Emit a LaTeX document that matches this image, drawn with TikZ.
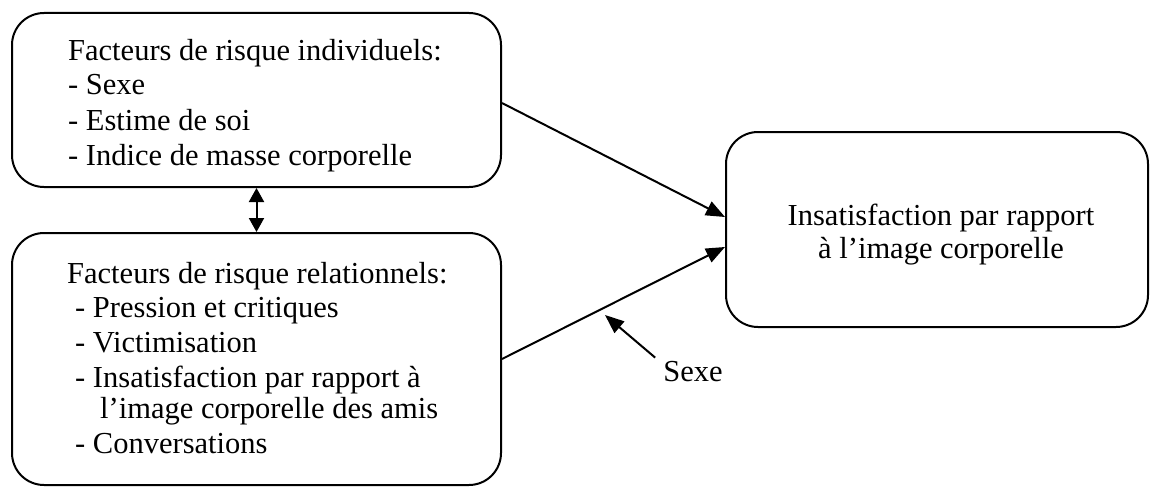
\documentclass[tikz,border=0pt]{standalone}
\usepackage{fontspec}
\setmainfont{Liberation Serif}
\usetikzlibrary{arrows.meta}
\begin{document}
\begin{tikzpicture}[x=1pt,y=-1pt,
  font=\fontsize{30.5}{35}\selectfont,
  box/.style={draw, line width=2pt, rounded corners=32pt, inner sep=0},
  txt/.style={anchor=base west, inner sep=0},
  ctxt/.style={anchor=base, inner sep=0},
  arr/.style={line width=2pt, -{Triangle[length=19pt,width=15pt]}},
  darr/.style={line width=2pt, {Triangle[length=14pt,width=15pt]}-{Triangle[length=14pt,width=15pt]}}]
\useasboundingbox (0,0) rectangle (1150,487);
% boxes
\node[box, minimum width=489pt, minimum height=174pt] (A) at (256.5,100) {};
\node[box, minimum width=489pt, minimum height=252pt] (B) at (256.5,359) {};
\node[box, minimum width=422pt, minimum height=195pt] (C) at (937,229.5) {};
% texts box A
\node[txt] (a1) at (68,60) {Facteurs de risque individuels:};
\node[txt] (a2) at (68,94) {- Sexe};
\node[txt] (a3) at (68,130) {- Estime de soi};
\node[txt] (a4) at (68,165) {- Indice de masse corporelle};
% texts box B
\node[txt] (b1) at (67,283) {Facteurs de risque relationnels:};
\node[txt] (b2) at (75,317) {- Pression et critiques};
\node[txt] (b3) at (75,352) {- Victimisation};
\node[txt] (b4) at (75,387) {- Insatisfaction par rapport à};
\node[txt] (b5) at (100,418) {l’image corporelle des amis};
\node[txt] (b6) at (75,453) {- Conversations};
% texts box C
\node[ctxt] (c1) at (941,225) {Insatisfaction par rapport};
\node[ctxt] (c2) at (941,258) {à l’image corporelle};
% Sexe label
\node[ctxt] (S) at (693,381) {Sexe};
\coordinate (tip) at (605,315);
% connectors
\draw[darr] (A.south) -- (B.north);
\draw[arr] ([yshift=-3pt]A.east) -- ([yshift=12.5pt]C.west);
\draw[arr] (B.east) -- ([yshift=-17.5pt]C.west);
\draw[arr] ([xshift=-8pt,yshift=3pt]S.north west) -- (tip);
\end{tikzpicture}
\end{document}
